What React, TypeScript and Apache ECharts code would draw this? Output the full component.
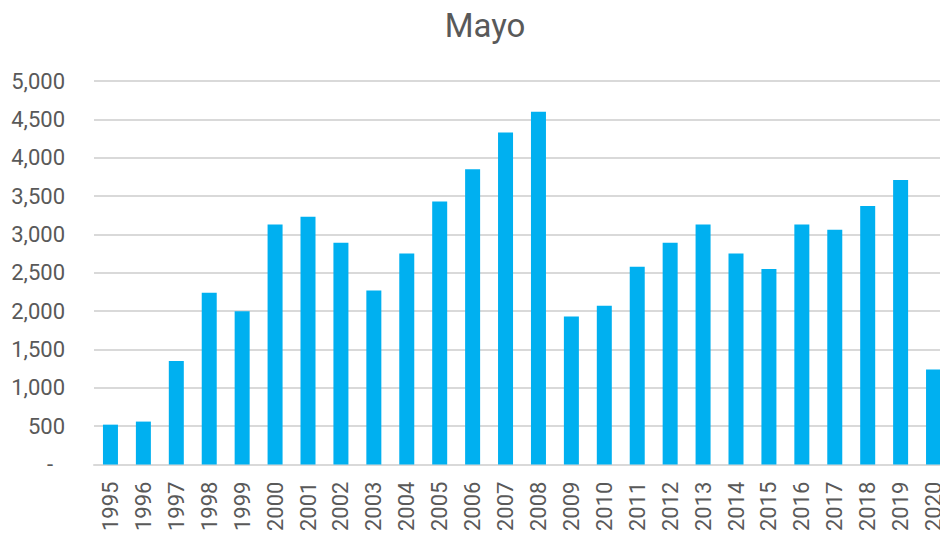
import React, { useEffect, useRef } from "react";
import * as echarts from "echarts";

const years = [
  "1995", "1996", "1997", "1998", "1999", "2000", "2001", "2002", "2003",
  "2004", "2005", "2006", "2007", "2008", "2009", "2010", "2011", "2012",
  "2013", "2014", "2015", "2016", "2017", "2018", "2019", "2020",
];
const values = [
  520, 560, 1350, 2240, 2000, 3130, 3230, 2890, 2270, 2750, 3430, 3850,
  4330, 4600, 1930, 2070, 2580, 2890, 3130, 2750, 2550, 3130, 3060, 3370,
  3710, 1240,
];
const titleText = "Mayo";

const FONT = "Roboto, 'Noto Sans', sans-serif";
const GREY = "#595959";

export default function App() {
  const ref = useRef<HTMLDivElement>(null);
  useEffect(() => {
    if (!ref.current) return;
    const chart = echarts.init(ref.current, undefined, { renderer: "svg" });
    chart.setOption({
      animation: false,
      backgroundColor: "#ffffff",
      graphic: [
        {
          type: "text",
          x: 485,
          y: 25,
          style: {
            text: titleText,
            textAlign: "center",
            textVerticalAlign: "middle",
            fontFamily: FONT,
            fontSize: 33,
            fill: GREY,
          },
        },
      ],
      grid: { left: 94, right: 10, top: 81, bottom: 64, containLabel: false },
      xAxis: {
        type: "category",
        data: years,
        axisLine: { lineStyle: { color: "#d9d9d9", width: 2 } },
        axisTick: { show: false },
        axisLabel: {
          interval: 0,
          rotate: 90,
          margin: 17,
          color: GREY,
          fontFamily: FONT,
          fontSize: 22,
        },
      },
      yAxis: {
        type: "value",
        min: 0,
        max: 5000,
        interval: 500,
        axisLine: { show: false },
        axisTick: { show: false },
        splitLine: { lineStyle: { color: "#d9d9d9", width: 2 } },
        axisLabel: {
          margin: 29,
          color: GREY,
          fontFamily: FONT,
          fontSize: 22,
          formatter: (v: number) =>
            v === 0 ? "{dash|-}" : v.toLocaleString("en-US"),
          rich: {
            dash: {
              color: GREY,
              fontFamily: FONT,
              fontSize: 22,
              padding: [0, 12, 0, 0],
            },
          },
        },
      },
      series: [
        {
          type: "bar",
          data: values,
          barWidth: 15,
          itemStyle: { color: "#00B0F0" },
        },
      ],
    });
    return () => chart.dispose();
  }, []);
  return (
    <div
      style={{
        position: "fixed",
        left: 0,
        top: 0,
        width: 940,
        height: 534,
        overflow: "hidden",
        background: "#fff",
      }}
    >
      <div ref={ref} style={{ width: 960, height: 534 }} />
    </div>
  );
}
